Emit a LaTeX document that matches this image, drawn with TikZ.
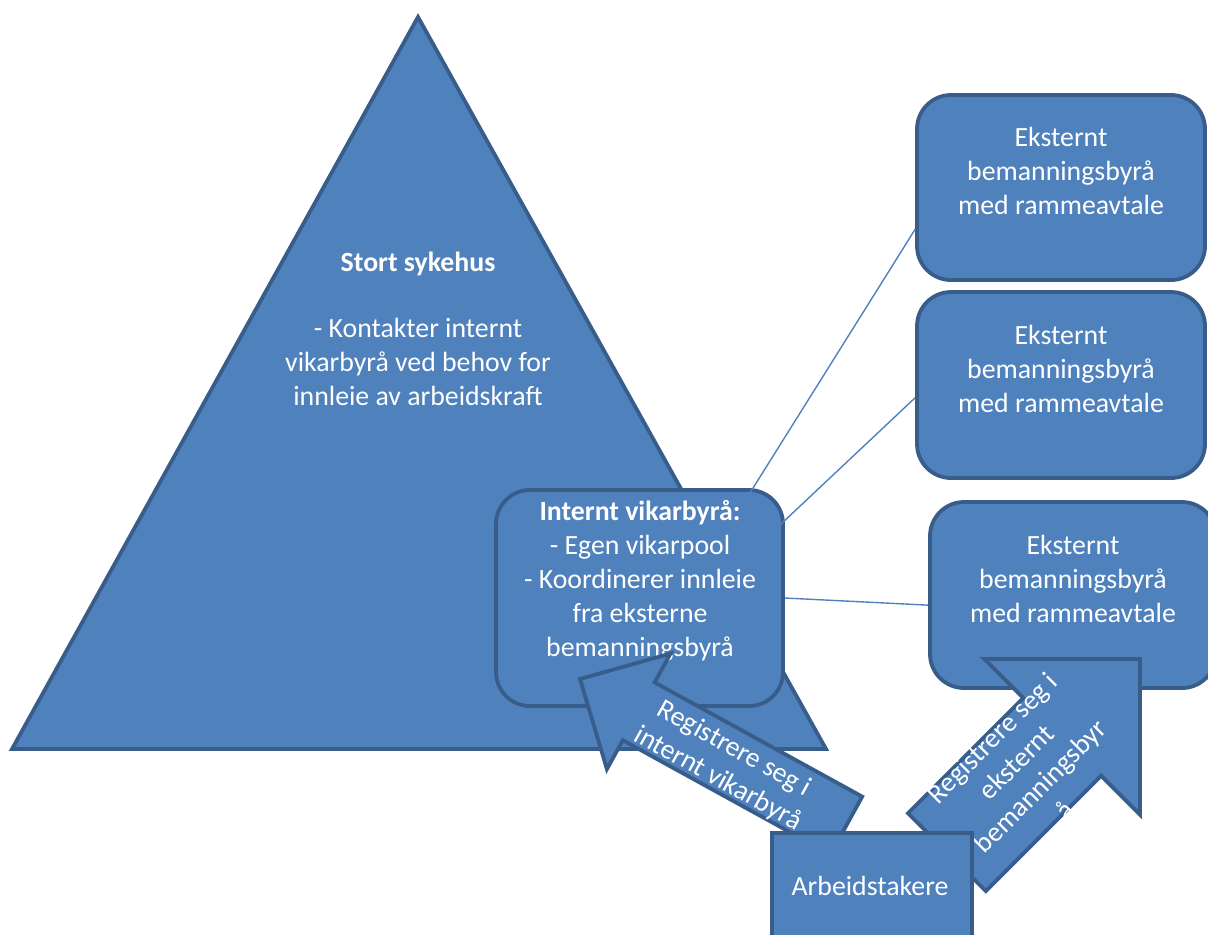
\documentclass[tikz,border=0pt]{standalone}
\usepackage{fontspec}
\setmainfont{Carlito}
\usetikzlibrary{calc,fit}
\definecolor{boxfill}{HTML}{4F81BD}
\definecolor{boxline}{HTML}{385D8A}

\begin{document}
\begin{tikzpicture}[x=0.5pt,y=-0.5pt,
    blueshape/.style={fill=boxfill, draw=boxline, line width=1.9pt},
    roundbox/.style={blueshape, rounded corners=17pt, inner sep=0pt},
    link/.style={draw=boxfill, line width=0.7pt},
    whitetext/.style={text=white, align=center, font=\fontsize{13.9}{17}\selectfont}]
    \useasboundingbox (0,0) rectangle (1208,934);
    \clip (0,0) rectangle (1208,934);

    % Define the big triangle for the hospital
    \coordinate (top) at (418,17);
    \coordinate (left) at (12,749);
    \coordinate (right) at (826,749);
    \draw[blueshape] (top) -- (right) -- (left) -- cycle;
    \node[whitetext] (sykehus) at (418,329) {\textbf{Stort sykehus}\\[16pt]- Kontakter internt\\vikarbyrå ved behov for\\innleie av arbeidskraft};

    % External agencies on the right
    \node[roundbox, fit={(917,95) (1205,280)}] (ext1) {};
    \node[whitetext] (ext1text) at (1061,171) {Eksternt\\bemanningsbyrå\\med rammeavtale};
    \node[roundbox, fit={(917,292) (1205,478)}] (ext2) {};
    \node[whitetext] (ext2text) at (1061,369) {Eksternt\\bemanningsbyrå\\med rammeavtale};
    \node[roundbox, fit={(930,502) (1216,688)}] (ext3) {};
    \node[whitetext] (ext3text) at (1073,579) {Eksternt\\bemanningsbyrå\\med rammeavtale};

    % Internal agency inside the triangle
    \node[roundbox, fit={(496,490) (783,706)}] (int) {};
    \node[whitetext] (inttext) at (640,581) {\textbf{Internt vikarbyrå:}\\- Egen vikarpool\\- Koordinerer innleie\\fra eksterne\\bemanningsbyrå};

    % Links from the internal agency to the external ones
    \coordinate (p1) at (738,512);
    \coordinate (p2) at (747,556);
    \draw[link] (p1) -- (ext1.196);
    \draw[link] (p2) -- (ext2.185);
    \draw[link] (int.east) -- (ext3.184);

    % Block arrow to the internal agency (tip, head, shaft)
    \draw[blueshape] (580,679) -- (670.5,653.5) -- (654.6,682.4) -- (862.2,796.6)
        -- (830.4,854.4) -- (622.8,740.2) -- (606.9,769.1) -- cycle;
    \node[whitetext, rotate=-29] (regint) at (726,764) {Registrere seg i\\internt vikarbyrå};

    % Block arrow to the external agency
    \draw[blueshape] (1140,659) -- (1140,814.6) -- (1101.1,775.7) -- (985.8,891)
        -- (908,813.2) -- (1023.3,697.9) -- (984.4,659) -- cycle;
    \node[whitetext, rotate=45] (regext) at (1028,774) {Registrere seg i\\eksternt\\bemanningsbyr\\å};

    % Workers at the bottom
    \node[blueshape, inner sep=0pt, fit={(772,833) (972,960)}] (arb) {};
    \node[whitetext] (arbtext) at (870,886) {Arbeidstakere};

\end{tikzpicture}
\end{document}
